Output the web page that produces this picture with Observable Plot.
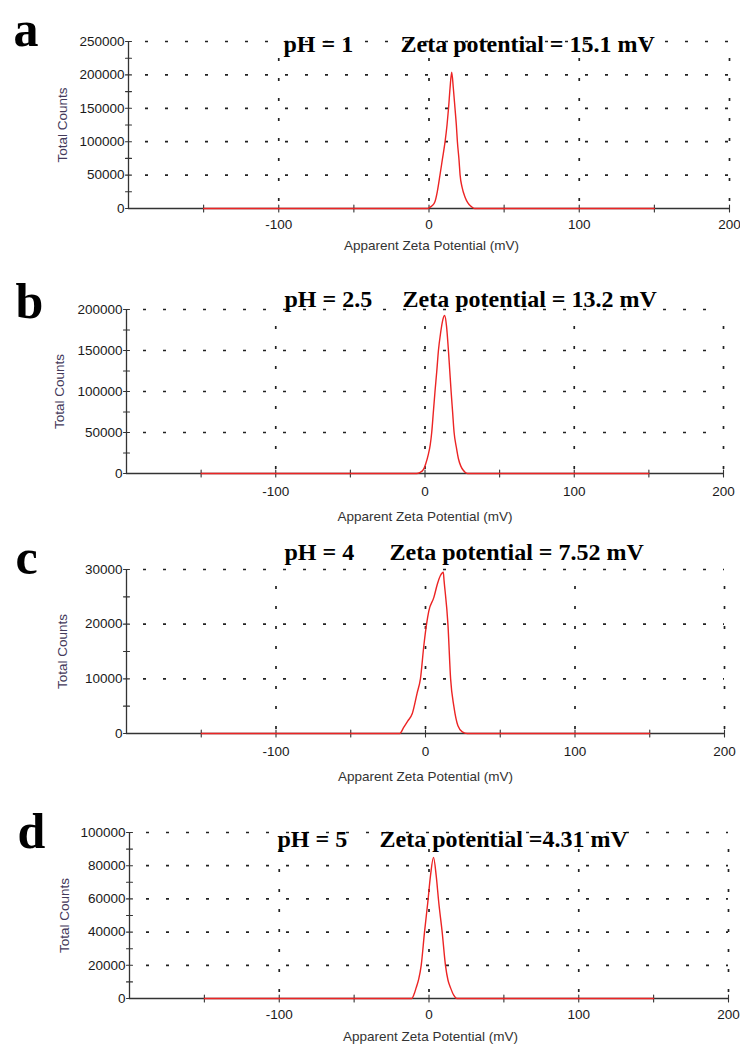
<!DOCTYPE html>
<html><head><meta charset="utf-8">
<script src="https://cdn.jsdelivr.net/npm/d3@7"></script>
<script src="https://cdn.jsdelivr.net/npm/@observablehq/plot@0.6"></script>
<style>
html,body{margin:0;padding:0;background:#fff;}
#chart{position:relative;width:740px;height:1047px;overflow:hidden;background:#fff;}
#chart svg{position:absolute;left:0;}
</style></head><body><div id="chart"></div>
<script>
// ---- data ----
const panelLetters = ["a", "b", "c", "d"];
const pHLabels = ["pH = 1", "pH = 2.5", "pH = 4", "pH = 5"];
const zetaLabels = ["Zeta potential = 15.1 mV", "Zeta potential = 13.2 mV", "Zeta potential = 7.52 mV", "Zeta potential =4.31 mV"];
const yMax = [250000, 200000, 30000, 100000];
const yMajorStep = [50000, 50000, 10000, 20000];
const xTickLabels = [-100, 0, 100, 200];
const xTicks = [-150, -100, -50, 0, 50, 100, 150, 200];
const xGrid = [-100, 0, 100, 200];
const xTitle = "Apparent Zeta Potential (mV)";
const yTitle = "Total Counts";

const zetaA = [-150, -1, 0, 2, 4, 5.5, 7.3, 9, 10.7, 12, 13, 14, 15.1, 16.2, 17.3, 18.2, 18.9, 20, 20.7, 22, 24, 26, 27.5, 29, 30.5, 150];
const countsA = [0, 0, 800, 4000, 10500, 25000, 50000, 75000, 100000, 125000, 150000, 180000, 204000, 180000, 150000, 125000, 100000, 72000, 50000, 32000, 17000, 8000, 4000, 1500, 0, 0];

const zetaB = [-150, -5.6, -3.5, -1, 0.5, 2.2, 3.5, 4.5, 5.6, 6.7, 7.9, 9, 10.5, 12, 13.2, 14.4, 15.7, 16.6, 17.5, 18.5, 19.5, 21, 22.4, 24, 25.8, 27, 28.5, 150];
const countsB = [0, 0, 1000, 5000, 12000, 23000, 35000, 50000, 75000, 100000, 125000, 150000, 172000, 188000, 192700, 180000, 150000, 125000, 100000, 75000, 50000, 32000, 18000, 9000, 3600, 1200, 0, 0];

const zetaC = [-150, -17.2, -14.6, -11.8, -8.9, -5.6, -3.4, -1.1, 0.7, 2.2, 5.6, 7.9, 10, 11.9, 12.4, 15, 16.8, 19, 21.7, 24.6, 28, 150];
const countsC = [0, 0, 1100, 2300, 3600, 7400, 10000, 16100, 20000, 22400, 24900, 27300, 28900, 29500, 28000, 20000, 10000, 4900, 1400, 300, 0, 0];

const zetaD = [-150, -11.5, -10, -8.6, -6.8, -5.2, -3, -0.8, 1, 3, 4.8, 6.5, 8.8, 11, 12.7, 14.4, 16.5, 18.6, 150];
const countsD = [0, 0, 2500, 6400, 12000, 20000, 40000, 58000, 74000, 85000, 74000, 58000, 40000, 20000, 11000, 6400, 2000, 0, 0];

const seriesZeta = [zetaA, zetaB, zetaC, zetaD];
const seriesCounts = [countsA, countsB, countsC, countsD];

// ---- layout ----
const layout = [
  {top: 0,   height: 260, mt: 41, mb: 52, ml: 128, mr: 11, letter: [-115, -12], ph: [155, 3.3],  zeta: [272, 3.3],  xtick: 16, xlab: [2.5, 37], ylab: -66},
  {top: 260, height: 260, mt: 49, mb: 47, ml: 126, mr: 17, letter: [-111, -8],  ph: [158, -10],  zeta: [276, -10],  xtick: 18, xlab: [0, 43],   ylab: -67},
  {top: 520, height: 270, mt: 49, mb: 57, ml: 126, mr: 16, letter: [-111, -12], ph: [158, -16.7], zeta: [263, -16.7], xtick: 18, xlab: [0, 43],  ylab: -64},
  {top: 790, height: 257, mt: 42, mb: 49, ml: 129, mr: 12, letter: [-112, -1],  ph: [148, 7],    zeta: [250, 7],    xtick: 16, xlab: [1.5, 38], ylab: -65}
];

const sans = "'Liberation Sans', Arial, Helvetica, sans-serif";
const serif = "'Liberation Serif', 'Times New Roman', Times, serif";
const axisColor = "#333";
const red = "#ec2424";

const chart = document.getElementById("chart");

layout.forEach((L, i) => {
  const data = seriesZeta[i].map((z, k) => ({z, c: seriesCounts[i][k]}));
  const step = yMajorStep[i];
  const yMajor = d3.range(0, yMax[i] + 1, step);
  const yMinor = d3.range(0, yMax[i] + 1, step / 2);
  const yGrid = yMajor.filter(v => v > 0);

  const svg = Plot.plot({
    width: 740,
    height: L.height,
    marginTop: L.mt,
    marginBottom: L.mb,
    marginLeft: L.ml,
    marginRight: L.mr,
    style: {background: "transparent", overflow: "visible"},
    x: {domain: [-200, 200], axis: null},
    y: {domain: [0, yMax[i]], axis: null},
    marks: [
      // dotted grid
      Plot.ruleY(yGrid, {y: d => d, stroke: "#222", strokeWidth: 1.7, strokeDasharray: "3,17", strokeDashoffset: 3}),
      Plot.ruleX(xGrid, {x: d => d, stroke: "#222", strokeWidth: 1.7, strokeDasharray: "3,17", strokeDashoffset: 3}),
      // axes lines
      Plot.ruleX([-200], {x: d => d, stroke: axisColor, strokeWidth: 1.3}),
      Plot.ruleY([0], {y: d => d, stroke: axisColor, strokeWidth: 1.3}),
      // crossing ticks
      Plot.vector(yMinor, {y: d => d, frameAnchor: "left", length: 6, rotate: 90, anchor: "middle", r: 0, stroke: axisColor, strokeWidth: 1.1}),
      Plot.vector(xTicks, {x: d => d, frameAnchor: "bottom", length: 7, rotate: 0, anchor: "middle", r: 0, stroke: axisColor, strokeWidth: 1.1}),
      // tick labels
      Plot.text(yMajor, {y: d => d, frameAnchor: "left", dx: -4, textAnchor: "end", lineAnchor: "middle", text: d => String(d), fontFamily: sans, fontSize: 13.5, fill: "#1a1a1a"}),
      Plot.text(xTickLabels, {x: d => d, frameAnchor: "bottom", dy: L.xtick, textAnchor: "middle", lineAnchor: "middle", text: d => String(d), fontFamily: sans, fontSize: 13.5, fill: "#1a1a1a"}),
      // axis titles
      Plot.text([xTitle], {frameAnchor: "bottom", dx: L.xlab[0], dy: L.xlab[1], text: d => d, lineAnchor: "middle", fontFamily: sans, fontSize: 13.5, fill: "#333"}),
      Plot.text([yTitle], {frameAnchor: "left", dx: L.ylab, rotate: -90, text: d => d, textAnchor: "middle", lineAnchor: "middle", fontFamily: sans, fontSize: 13.5, fill: "#43395a"}),
      // data
      Plot.line(data, {x: "z", y: "c", stroke: red, strokeWidth: 1.4, curve: "monotone-x"}),
      // titles
      Plot.text([panelLetters[i]], {frameAnchor: "top-left", dx: L.letter[0], dy: L.letter[1], text: d => d, textAnchor: "start", lineAnchor: "middle", fontFamily: serif, fontWeight: "bold", fontSize: 50, fill: "#000"}),
      Plot.text([pHLabels[i]], {frameAnchor: "top-left", dx: L.ph[0], dy: L.ph[1], text: d => d, textAnchor: "start", lineAnchor: "middle", fontFamily: serif, fontWeight: "bold", fontSize: 24, fill: "#000"}),
      Plot.text([zetaLabels[i]], {frameAnchor: "top-left", dx: L.zeta[0], dy: L.zeta[1], text: d => d, textAnchor: "start", lineAnchor: "middle", fontFamily: serif, fontWeight: "bold", fontSize: 24, fill: "#000"})
    ]
  });
  svg.style.top = L.top + "px";
  chart.appendChild(svg);
});
</script>
</body></html>
